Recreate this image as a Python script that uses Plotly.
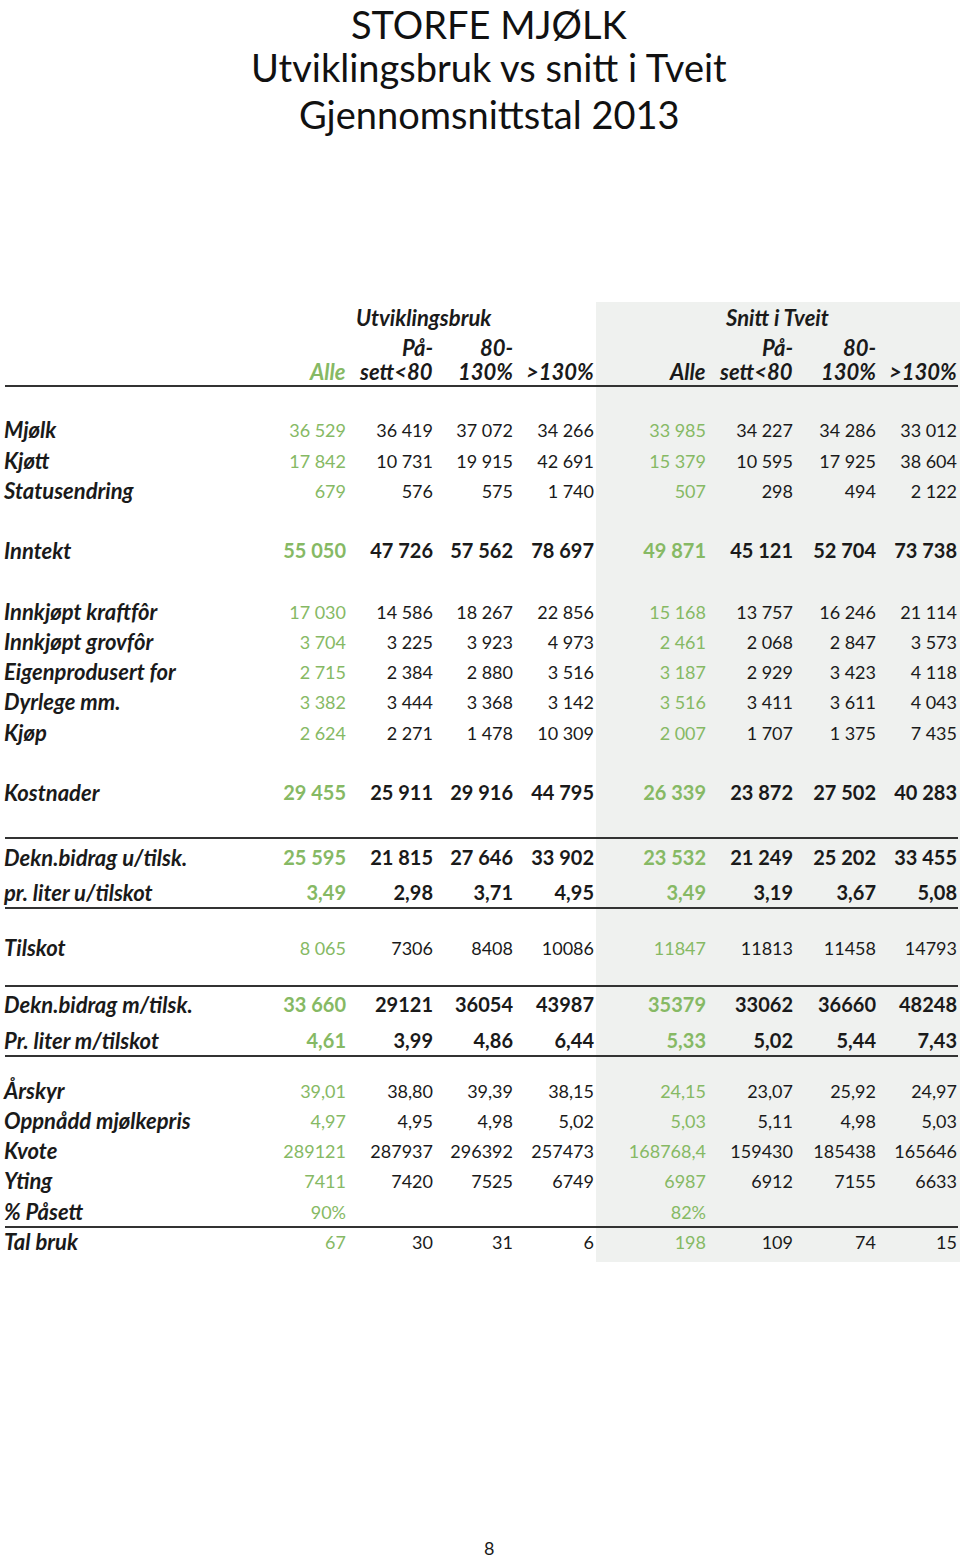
import plotly.graph_objects as go

# ---------------- data ----------------
TITLE_LINES = ["STORFE MJØLK", "Utviklingsbruk vs snitt i Tveit", "Gjennomsnittstal 2013"]
GROUPS = ["Utviklingsbruk", "Snitt i Tveit"]
COL_HEAD_1 = ["", "På-", "80-", "", "", "På-", "80-", ""]
COL_HEAD_2 = ["Alle", "sett<80", "130%", ">130%", "Alle", "sett<80", "130%", ">130%"]

ROW_LABELS = ["Mjølk", "Kjøtt", "Statusendring", "Inntekt", "Innkjøpt kraftfôr",
              "Innkjøpt grovfôr", "Eigenprodusert for", "Dyrlege mm.", "Kjøp", "Kostnader",
              "Dekn.bidrag u/tilsk.", "pr. liter u/tilskot", "Tilskot", "Dekn.bidrag m/tilsk.",
              "Pr. liter m/tilskot", "Årskyr", "Oppnådd mjølkepris", "Kvote", "Yting",
              "% Påsett", "Tal bruk"]

UTV_ALLE = ["36 529", "17 842", "679", "55 050", "17 030", "3 704", "2 715", "3 382", "2 624",
            "29 455", "25 595", "3,49", "8 065", "33 660", "4,61", "39,01", "4,97", "289121",
            "7411", "90%", "67"]
UTV_PASETT = ["36 419", "10 731", "576", "47 726", "14 586", "3 225", "2 384", "3 444", "2 271",
              "25 911", "21 815", "2,98", "7306", "29121", "3,99", "38,80", "4,95", "287937",
              "7420", "", "30"]
UTV_80_130 = ["37 072", "19 915", "575", "57 562", "18 267", "3 923", "2 880", "3 368", "1 478",
              "29 916", "27 646", "3,71", "8408", "36054", "4,86", "39,39", "4,98", "296392",
              "7525", "", "31"]
UTV_GT130 = ["34 266", "42 691", "1 740", "78 697", "22 856", "4 973", "3 516", "3 142", "10 309",
             "44 795", "33 902", "4,95", "10086", "43987", "6,44", "38,15", "5,02", "257473",
             "6749", "", "6"]
TVEIT_ALLE = ["33 985", "15 379", "507", "49 871", "15 168", "2 461", "3 187", "3 516", "2 007",
              "26 339", "23 532", "3,49", "11847", "35379", "5,33", "24,15", "5,03", "168768,4",
              "6987", "82%", "198"]
TVEIT_PASETT = ["34 227", "10 595", "298", "45 121", "13 757", "2 068", "2 929", "3 411", "1 707",
                "23 872", "21 249", "3,19", "11813", "33062", "5,02", "23,07", "5,11", "159430",
                "6912", "", "109"]
TVEIT_80_130 = ["34 286", "17 925", "494", "52 704", "16 246", "2 847", "3 423", "3 611", "1 375",
                "27 502", "25 202", "3,67", "11458", "36660", "5,44", "25,92", "4,98", "185438",
                "7155", "", "74"]
TVEIT_GT130 = ["33 012", "38 604", "2 122", "73 738", "21 114", "3 573", "4 118", "4 043", "7 435",
               "40 283", "33 455", "5,08", "14793", "48248", "7,43", "24,97", "5,03", "165646",
               "6633", "", "15"]
BOLD_ROWS = ["Inntekt", "Kostnader", "Dekn.bidrag u/tilsk.", "pr. liter u/tilskot",
             "Dekn.bidrag m/tilsk.", "Pr. liter m/tilskot"]
PAGE_NO = "8"

COLUMNS = [UTV_ALLE, UTV_PASETT, UTV_80_130, UTV_GT130,
           TVEIT_ALLE, TVEIT_PASETT, TVEIT_80_130, TVEIT_GT130]

# ---------------- layout (pixel positions on the page axes) ----------------
W, H = 960, 1559
COL_X = [346, 433, 513, 594, 706, 793, 876, 957]
ROW_Y = [432, 463, 493, 553, 614, 644, 674, 704, 735, 795, 860, 895, 950, 1007, 1043,
         1093, 1123, 1153, 1183, 1214, 1244]
RULE_Y = [386, 838, 908, 986, 1056, 1227]
GREEN = "#86b964"
BLACK = "#1a1a1a"
FONT = "Lato"
NUM_SIZE = 18

fig = go.Figure()

# grey panel behind the second group
fig.add_shape(type="rect", xref="x", yref="y", x0=596, x1=960, y0=302, y1=1262,
              fillcolor="#eff1ef", line_width=0, layer="below")
for ry in RULE_Y:
    fig.add_shape(type="line", xref="x", yref="y", x0=5, x1=958, y0=ry, y1=ry,
                  line=dict(color="#333333", width=2))

# row labels
fig.add_trace(go.Scatter(
    x=[4] * len(ROW_LABELS), y=ROW_Y, mode="text", text=ROW_LABELS,
    textposition="middle right", cliponaxis=False,
    textfont=dict(family=FONT, size=22, color=BLACK, weight="bold", style="italic"),
    hoverinfo="skip", showlegend=False))

# values
for ci, col in enumerate(COLUMNS):
    color = GREEN if ci in (0, 4) else BLACK
    for bold in (False, True):
        xs, ys, ts = [], [], []
        for ri, v in enumerate(col):
            if (ROW_LABELS[ri] in BOLD_ROWS) == bold and v:
                xs.append(COL_X[ci]); ys.append(ROW_Y[ri]); ts.append(v)
        fig.add_trace(go.Scatter(
            x=xs, y=ys, mode="text", text=ts, textposition="middle left", cliponaxis=False,
            textfont=dict(family=FONT, size=20 if bold else NUM_SIZE, color=color,
                          weight="bold" if bold else "normal"),
            hoverinfo="skip", showlegend=False))

# group headers
hdr_font = dict(family=FONT, size=22, color=BLACK, weight="bold", style="italic")
fig.add_annotation(x=424, y=317, text=GROUPS[0], showarrow=False, xref="x", yref="y",
                   xanchor="center", yanchor="middle", font=hdr_font)
fig.add_annotation(x=777, y=317, text=GROUPS[1], showarrow=False, xref="x", yref="y",
                   xanchor="center", yanchor="middle", font=hdr_font)
for ci in range(8):
    if COL_HEAD_1[ci]:
        fig.add_annotation(x=COL_X[ci] + 2, y=347, text=COL_HEAD_1[ci], showarrow=False,
                           xref="x", yref="y", xanchor="right", yanchor="middle", font=hdr_font)
    f2 = dict(hdr_font)
    if ci == 0:
        f2["color"] = GREEN
    fig.add_annotation(x=COL_X[ci] + 2, y=371, text=COL_HEAD_2[ci], showarrow=False,
                       xref="x", yref="y", xanchor="right", yanchor="middle", font=f2)

# titles
fig.add_annotation(x=489, y=0, text=TITLE_LINES[0], showarrow=False, xref="x", yref="y",
                   xanchor="center", yanchor="top", borderpad=0,
                   font=dict(family=FONT, size=38, color="#111111"))
for ty, t in zip([67, 114], TITLE_LINES[1:]):
    fig.add_annotation(x=489, y=ty, text=t, showarrow=False, xref="x", yref="y",
                       xanchor="center", yanchor="middle",
                       font=dict(family=FONT, size=38, color="#111111"))

fig.add_annotation(x=489, y=1548, text=PAGE_NO, showarrow=False, xref="x", yref="y",
                   xanchor="center", yanchor="middle",
                   font=dict(family=FONT, size=18, color=BLACK))

fig.update_layout(
    width=W, height=H, margin=dict(l=0, r=0, t=0, b=0),
    paper_bgcolor="white", plot_bgcolor="white",
    xaxis=dict(range=[0, W], visible=False, fixedrange=True),
    yaxis=dict(range=[H, 0], visible=False, fixedrange=True),
)

fig.write_html("out.html", config={"displayModeBar": False},
               post_script="document.body.style.margin='0';")
